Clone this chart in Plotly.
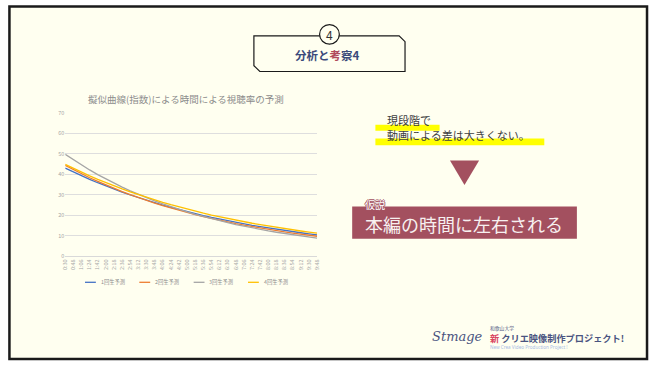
import plotly.graph_objects as go

W, H = 653, 367

times = ["0:30", "0:48", "1:06", "1:24", "1:42", "2:00", "2:18", "2:36", "2:54", "3:12",
         "3:30", "3:48", "4:06", "4:24", "4:42", "5:00", "5:18", "5:36", "5:54", "6:12",
         "6:30", "6:48", "7:06", "7:24", "7:42", "8:00", "8:18", "8:36", "8:54", "9:12",
         "9:30", "9:48"]

series_names = ["1回生予測", "2回生予測", "3回生予測", "4回生予測"]
series_colors = ["#4472C4", "#ED7D31", "#A5A5A5", "#FFC000"]

s1 = [43.0, 41.09, 39.26, 37.52, 35.85, 34.25, 32.73, 31.27, 29.88, 28.55, 27.28, 26.07,
      24.91, 23.80, 22.75, 21.73, 20.77, 19.84, 18.96, 18.12, 17.31, 16.54, 15.81, 15.10,
      14.43, 13.79, 13.18, 12.59, 12.03, 11.50, 10.98, 10.50]
s2 = [44.3, 42.20, 40.19, 38.28, 36.47, 34.73, 33.08, 31.51, 30.02, 28.59, 27.23, 25.94,
      24.71, 23.53, 22.41, 21.35, 20.34, 19.37, 18.45, 17.57, 16.74, 15.94, 15.19, 14.47,
      13.78, 13.12, 12.50, 11.91, 11.34, 10.80, 10.29, 9.80]
s3 = [49.7, 47.02, 44.48, 42.08, 39.81, 37.66, 35.63, 33.71, 31.89, 30.17, 28.54, 27.00,
      25.54, 24.16, 22.86, 21.62, 20.46, 19.35, 18.31, 17.32, 16.39, 15.50, 14.67, 13.87,
      13.13, 12.42, 11.75, 11.11, 10.51, 9.95, 9.41, 8.90]
s4 = [44.8, 42.85, 40.99, 39.21, 37.51, 35.88, 34.32, 32.83, 31.40, 30.03, 28.73, 27.48,
      26.29, 25.14, 24.05, 23.01, 22.01, 21.05, 20.13, 19.26, 18.42, 17.62, 16.86, 16.12,
      15.42, 14.75, 14.11, 13.50, 12.91, 12.35, 11.81, 11.30]
series_values = [s1, s2, s3, s4]

y_ticks = [0, 10, 20, 30, 40, 50, 60, 70]

chart_title = "擬似曲線(指数)による時間による視聴率の予測"
CJK = "Noto Sans CJK JP"


def px(x):
    return x / W


def py(y):
    return 1 - y / H


fig = go.Figure()
for name, color, vals in zip(series_names, series_colors, series_values):
    fig.add_trace(go.Scatter(x=times, y=vals, name=name, mode="lines",
                             line=dict(color=color, width=1.3), showlegend=False))

shapes = []
annotations = []

# page frame
shapes.append(dict(type="rect", xref="paper", yref="paper", x0=px(5.5), x1=px(651),
                   y0=py(363), y1=py(2.5), fillcolor="#FFFFF0",
                   line=dict(color="#1A1A1A", width=2.5), layer="below"))

# header box (chamfered)
hx0, hx1, hy0, hy1, c = 253, 406, 32.5, 69, 6
path = (f"M {px(hx0)},{py(hy0)} L {px(hx1 - c)},{py(hy0)} L {px(hx1)},{py(hy0 + c)} "
        f"L {px(hx1)},{py(hy1)} L {px(hx0 + c)},{py(hy1)} L {px(hx0)},{py(hy1 - c)} Z")
shapes.append(dict(type="path", xref="paper", yref="paper", path=path,
                   line=dict(color="#1A1A1A", width=1.2), fillcolor="rgba(0,0,0,0)"))
# circle with number
shapes.append(dict(type="circle", xref="paper", yref="paper",
                   x0=px(319.5), x1=px(339.5), y0=py(41), y1=py(21),
                   line=dict(color="#1A1A1A", width=1.2), fillcolor="#FFFFF0"))
annotations.append(dict(x=px(329.5), y=py(31), xref="paper", yref="paper", text="4",
                        showarrow=False, font=dict(family=CJK, size=12, color="#333333"),
                        xanchor="center", yanchor="middle"))
annotations.append(dict(x=px(328), y=py(52.5), xref="paper", yref="paper",
                        text="<b>分析と<span style='color:#B0485A'>考</span>察4</b>",
                        showarrow=False, font=dict(family=CJK, size=11.5, color="#3B4A7A"),
                        xanchor="center", yanchor="middle"))

# chart title
annotations.append(dict(x=px(184), y=py(97), xref="paper", yref="paper", text=chart_title,
                        showarrow=False, font=dict(family=CJK, size=9.5, color="#8C8C8C"),
                        xanchor="center", yanchor="middle"))

# manual legend
leg_x = [82, 137, 192, 247]
for name, color, lx in zip(series_names, series_colors, leg_x):
    shapes.append(dict(type="line", xref="paper", yref="paper", x0=px(lx), x1=px(lx + 11),
                       y0=py(284.5), y1=py(284.5), line=dict(color=color, width=1.3)))
    annotations.append(dict(x=px(lx + 14), y=py(284.5), xref="paper", yref="paper",
                            text=name, showarrow=False,
                            font=dict(family=CJK, size=5.3, color="#8C8C8C"),
                            xanchor="left", yanchor="middle"))

# right side texts with yellow highlights
shapes.append(dict(type="rect", xref="paper", yref="paper", x0=px(376), x1=px(441),
                   y0=py(129.5), y1=py(123.5), fillcolor="#FFFF00", line=dict(width=0)))
shapes.append(dict(type="rect", xref="paper", yref="paper", x0=px(376), x1=px(547),
                   y0=py(144.5), y1=py(137.5), fillcolor="#FFFF00", line=dict(width=0)))
annotations.append(dict(x=px(385.5), y=py(118.5), xref="paper", yref="paper", text="現段階で",
                        showarrow=False, font=dict(family=CJK, size=11, color="#404040"),
                        xanchor="left", yanchor="middle"))
annotations.append(dict(x=px(385.5), y=py(133.5), xref="paper", yref="paper",
                        text="動画による差は大きくない。",
                        showarrow=False, font=dict(family=CJK, size=11, color="#404040"),
                        xanchor="left", yanchor="middle"))

# triangle
tri = (f"M {px(451.5)},{py(160)} L {px(481)},{py(160)} L {px(466.2)},{py(185)} Z")
shapes.append(dict(type="path", xref="paper", yref="paper", path=tri,
                   fillcolor="#A3505F", line=dict(width=0)))

# hypothesis box
shapes.append(dict(type="rect", xref="paper", yref="paper", x0=px(352.5), x1=px(580),
                   y0=py(240), y1=py(207), fillcolor="#A3505F", line=dict(width=0)))
annotations.append(dict(x=px(466), y=py(224.5), xref="paper", yref="paper",
                        text="本編の時間に左右される", showarrow=False,
                        font=dict(family=CJK, size=18, color="#F7F0F0"),
                        xanchor="center", yanchor="middle"))
annotations.append(dict(x=px(375.5), y=py(205), xref="paper", yref="paper", text="仮説",
                        showarrow=False,
                        font=dict(family=CJK, size=10, color="#FFFFFF",
                                  shadow="1px 0 0 #A3505F, -1px 0 0 #A3505F, 0 1px 0 #A3505F, 0 -1px 0 #A3505F"),
                        xanchor="center", yanchor="middle"))

# logo
annotations.append(dict(x=px(459), y=py(340), xref="paper", yref="paper", text="<i>Stmage</i>",
                        showarrow=False,
                        font=dict(family="DejaVu Serif", size=13, color="#4A5480"),
                        xanchor="center", yanchor="middle"))
annotations.append(dict(x=px(490), y=py(331), xref="paper", yref="paper", text="和歌山大学",
                        showarrow=False, font=dict(family=CJK, size=4.8, color="#4A5480"),
                        xanchor="left", yanchor="middle"))
annotations.append(dict(x=px(489.5), y=py(341.5), xref="paper", yref="paper",
                        text="<b><span style='color:#D9455F'>新</span> クリエ映像制作プロジェクト!</b>",
                        showarrow=False, font=dict(family=CJK, size=9.2, color="#4A5480"),
                        xanchor="left", yanchor="middle"))
annotations.append(dict(x=px(490), y=py(351), xref="paper", yref="paper",
                        text="New Crea Video Production Project !",
                        showarrow=False, font=dict(family="Noto Sans", size=4.6, color="#A8BCE6"),
                        xanchor="left", yanchor="middle"))

fig.update_layout(
    width=W, height=H, autosize=False,
    margin=dict(l=0, r=0, t=0, b=0),
    paper_bgcolor="#FFFFFF", plot_bgcolor="rgba(0,0,0,0)",
    showlegend=False,
    shapes=shapes, annotations=annotations,
    xaxis=dict(domain=[px(62), px(317)], range=[0, 31], type="category",
               tickangle=-90, tickfont=dict(family=CJK, size=5.4, color="#A6A6A6"),
               showgrid=False, showline=True, linecolor="#D9D9D9", linewidth=1,
               ticks="", fixedrange=True),
    yaxis=dict(domain=[py(258), py(111)], range=[0, 70], tickvals=y_ticks,
               tickfont=dict(family=CJK, size=5.5, color="#A6A6A6"),
               showgrid=True, gridcolor="#DEDEDE", gridwidth=1, zeroline=False,
               showline=False, ticks="", fixedrange=True),
)

fig.write_html("out.html")
